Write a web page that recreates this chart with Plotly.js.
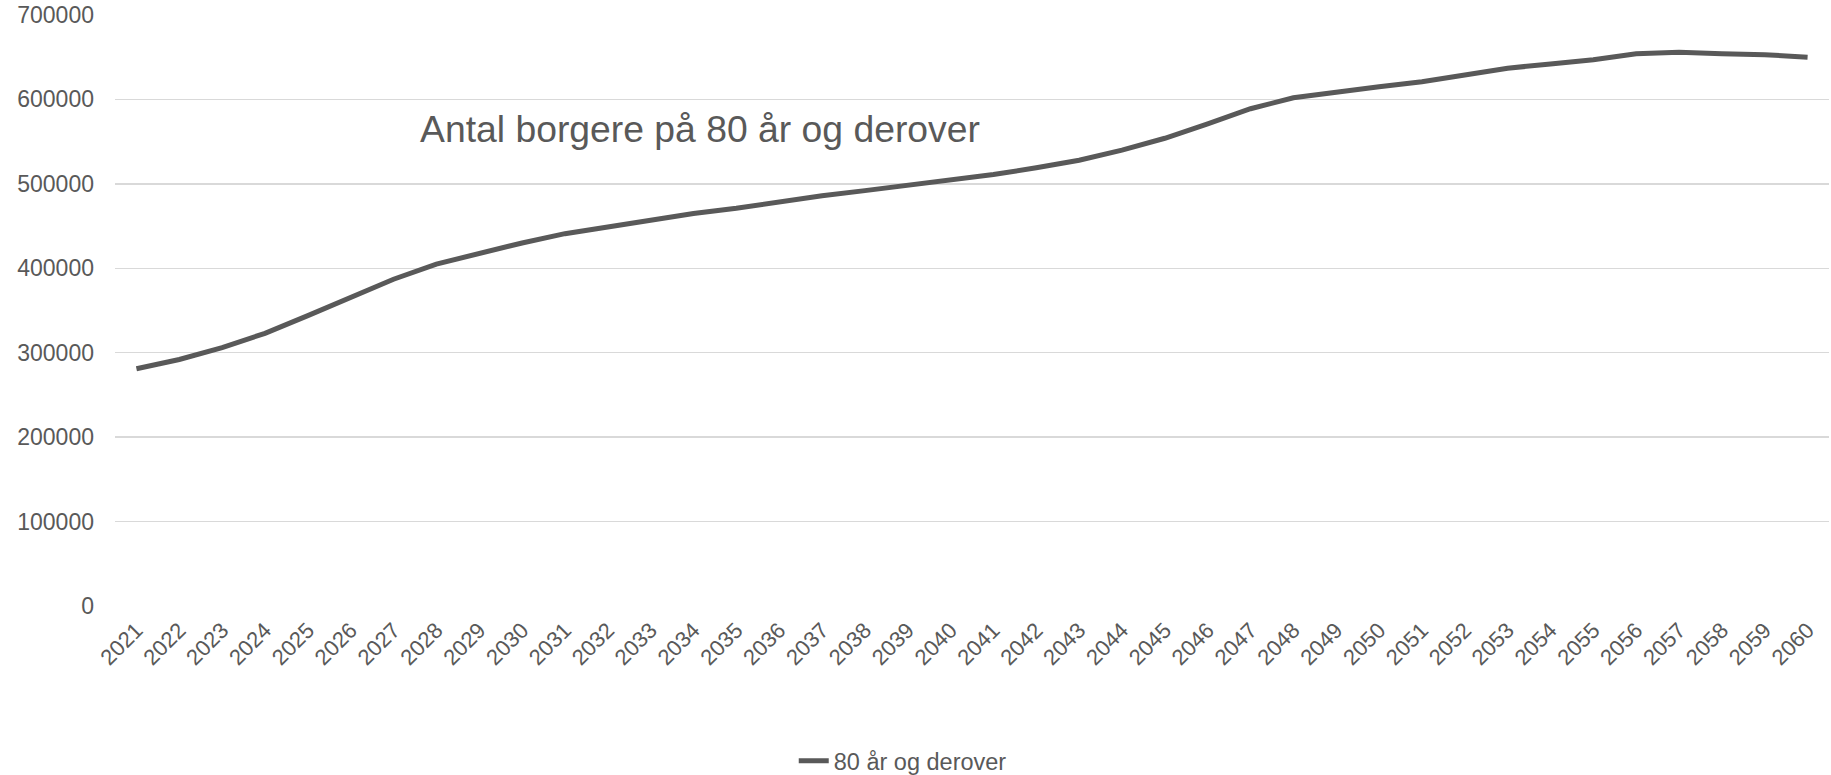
<!DOCTYPE html>
<html>
<head>
<meta charset="utf-8">
<script src="https://cdn.plot.ly/plotly-3.0.1.min.js"></script>
<style>html,body{margin:0;padding:0;background:#fff;}#chart{width:1831px;height:775px;}</style>
</head>
<body>
<div id="chart"></div>
<script>
const years = ["2021","2022","2023","2024","2025","2026","2027","2028","2029","2030",
  "2031","2032","2033","2034","2035","2036","2037","2038","2039","2040",
  "2041","2042","2043","2044","2045","2046","2047","2048","2049","2050",
  "2051","2052","2053","2054","2055","2056","2057","2058","2059","2060"];
const values80 = [281000,292000,306000,323000,344000,365000,387000,405000,418000,430000,
  441000,449000,457000,465000,471000,479000,486000,492000,498000,504000,
  511000,519000,528000,540000,554000,571000,589000,602000,609000,615000,
  621000,629000,637000,642000,647000,654000,656000,654000,653000,650000];
const seriesName = "80 år og derover";
const chartTitle = "Antal borgere på 80 år og derover";
const yTicks = [0,100000,200000,300000,400000,500000,600000,700000];

const txt = "#595959";
const font = "Liberation Sans, Arial, sans-serif";

Plotly.newPlot("chart", [{
  type: "scatter", mode: "lines", x: years, y: values80, name: seriesName,
  line: {color: "#595959", width: 5}
}], {
  width: 1831, height: 775,
  margin: {l: 115, r: 2, t: 15, b: 169, pad: 0},
  paper_bgcolor: "#fff", plot_bgcolor: "#fff",
  font: {family: font, color: txt, size: 23},
  title: {text: chartTitle, font: {family: font, size: 37.3, color: txt},
    xref: "paper", x: 0.178, xanchor: "left", yref: "paper", y: 0.808, yanchor: "middle"},
  xaxis: {type: "category", range: [-0.5, years.length - 0.5], tickangle: -45, showgrid: false,
    zeroline: false, showline: false, ticks: "", ticklabelstandoff: 6, tickfont: {size: 22, color: txt}},
  yaxis: {range: [0, 700000], tickvals: yTicks, tickformat: "d", showgrid: true,
    gridcolor: "#d9d9d9", gridwidth: 1.5, zeroline: false, showline: false, ticks: "",
    ticklabelstandoff: 20, tickfont: {size: 23, color: txt}},
  showlegend: true,
  legend: {orientation: "h", xref: "paper", x: 0.396, xanchor: "left", yref: "container",
    y: 0.018, yanchor: "middle", font: {size: 23.5, color: txt}}
}, {displayModeBar: false, staticPlot: true});
</script>
</body>
</html>
